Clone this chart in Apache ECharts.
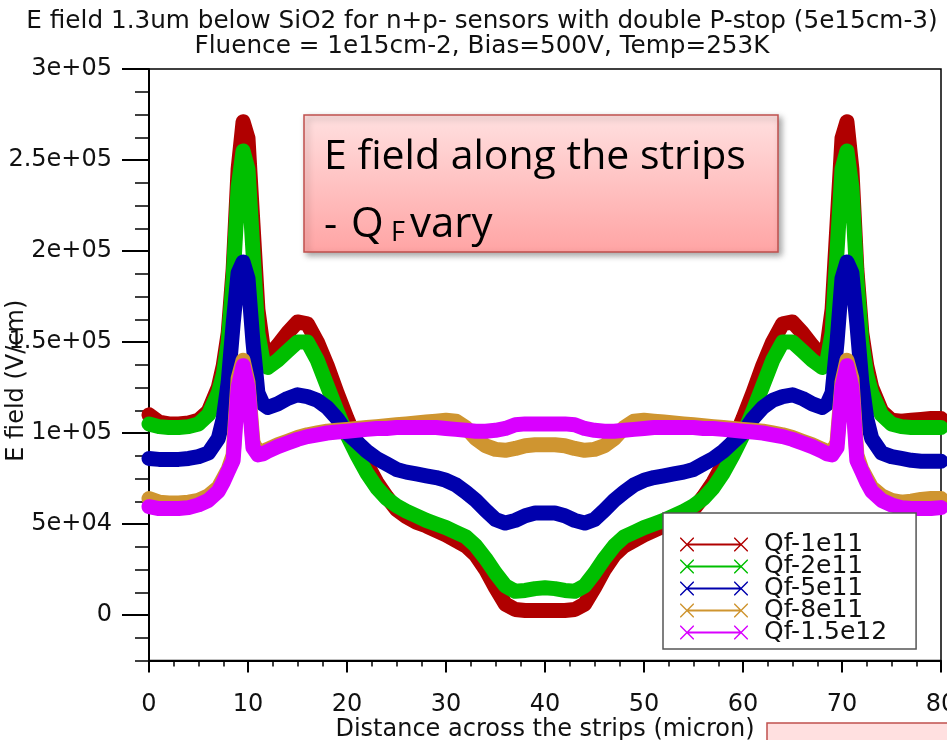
<!DOCTYPE html>
<html>
<head>
<meta charset="utf-8">
<script src="https://cdn.jsdelivr.net/npm/echarts@6/dist/echarts.min.js"></script>
<style>
html,body{margin:0;padding:0;background:#fff;}
#chart{width:947px;height:740px;}
</style>
</head>
<body>
<div id="chart"></div>
<script>
// ---- data ----
const xs = [0,1,2,3,4,5,6,7,7.5,8,8.5,9,9.5,10,10.5,11,11.5,12,13,14,15,16,17,18,19,20,21,22,23,24,25,26,27,28,29,30,31,32,33,34,35,36,37,38,39,40,
            41,42,43,44,45,46,47,48,49,50,51,52,53,54,55,56,57,58,59,60,61,62,63,64,65,66,67,68,68.5,69,69.5,70,70.5,71,71.5,72,72.5,73,74,75,76,77,78,79,80];

const qf1e11 = [110000,106000,105000,105000,105500,107000,112000,125000,137000,155000,190000,245000,271000,262000,215000,168000,148000,142000,
  148000,155000,161000,160000,150000,137000,122000,108000,95000,83000,73000,65000,58000,54000,51000,49000,46500,44000,41000,38000,33000,25000,15000,6000,3000,2500,2500,2500,
  2500,2500,3000,6000,15000,25000,33000,38000,41000,44000,46500,49000,51000,54000,58000,65000,73000,83000,95000,108000,122000,137000,150000,160000,161000,155000,148000,142000,
  148000,168000,215000,262000,271000,245000,190000,155000,137000,125000,112000,107000,106500,107000,107500,108000,108000];

const qf2e11 = [105000,103500,103000,103000,103500,105000,110000,122000,132000,150000,185000,235000,255000,245000,200000,155000,140000,136000,
  140000,145000,150000,150000,140000,126000,112000,99000,88000,78000,70000,64000,60000,57000,54500,52000,50000,48000,45500,43000,38000,31000,23000,16000,13000,13500,14500,15000,
  14500,13500,13000,16000,23000,31000,38000,43000,45500,48000,50000,52000,54500,57000,60000,64000,70000,78000,88000,99000,112000,126000,140000,150000,150000,145000,140000,136000,
  140000,155000,200000,245000,255000,235000,185000,150000,132000,122000,110000,105000,103500,103000,103000,103000,103000];

const qf5e11 = [86000,85500,85500,85500,86000,87000,89000,97000,108000,128000,160000,188000,194000,185000,150000,122000,116000,114000,
  116000,119000,121000,120000,118000,114000,108000,100000,95000,90000,86000,83000,80000,78500,77500,76500,75500,74000,71500,67500,63000,57500,52500,50500,52000,54500,56000,56000,
  56000,54500,52000,50500,52500,57500,63000,67500,71500,74000,75500,76500,77500,78500,80000,83000,86000,90000,95000,100000,108000,114000,118000,120000,121000,119000,116000,114000,
  116000,122000,150000,185000,194000,188000,160000,128000,108000,97000,89000,87000,86000,85000,84500,84500,84500];

const qf8e11 = [64000,62000,61500,61500,62000,63000,65500,70000,75000,80000,88000,130000,140000,128000,95000,89000,90000,91000,
  93500,95500,97500,99000,100000,101000,101500,102000,102500,103000,103500,104000,104500,105000,105500,106000,106500,107000,106500,103000,97000,93000,91000,90500,91500,93000,93500,93500,
  93500,93000,91500,90500,91000,93000,97000,103000,106500,107000,106500,106000,105500,105000,104500,104000,103500,103000,102500,102000,101500,101000,100000,99000,97500,95500,93500,91000,
  90000,89000,95000,128000,140000,130000,88000,80000,75000,70000,65500,63000,62000,62500,63500,64000,64000];

const qf15e12 = [59500,58500,58500,58500,59000,60500,63000,68000,73000,79000,85000,125000,137000,125000,92000,88000,88500,90000,
  92500,94500,96500,98000,99000,100000,100500,101000,101500,102000,102500,102500,103000,103000,103000,103000,103000,102500,102000,101500,101000,101000,101500,102500,104500,105000,105000,105000,
  105000,105000,104500,102500,101500,101000,101000,101500,102000,102500,103000,103000,103000,103000,103000,102500,102500,102000,101500,101000,100500,100000,99000,98000,96500,94500,92500,90000,
  88500,88000,92000,125000,137000,125000,85000,79000,73000,68000,63000,60500,59000,58500,58500,58500,59000];

const seriesNames = ['Qf-1e11','Qf-2e11','Qf-5e11','Qf-8e11','Qf-1.5e12'];
const seriesValues = [qf1e11, qf2e11, qf5e11, qf8e11, qf15e12];
const seriesColors = ['#b00000','#00bf00','#0000ad','#cf9530','#d900ff'];

const yTickValues = [0,50000,100000,150000,200000,250000,300000];
const yTickLabels = ['0','5e+04','1e+05','1.5e+05','2e+05','2.5e+05','3e+05'];

const titleLines = ['E field 1.3um below SiO2 for n+p- sensors with double P-stop (5e15cm-3)',
                    'Fluence = 1e15cm-2, Bias=500V, Temp=253K'];

// ---- chart ----
const FF = "'DejaVu Sans', sans-serif";
const AF = "'Open Sans', sans-serif";
const chart = echarts.init(document.getElementById('chart'), null, {renderer:'canvas'});

const legendIcon = 'path://M6,6L62,6L62,8L6,8Z' +
  'M0,0L1,0L14,13L14,14L13,14L0,1Z M13,0L14,0L14,1L1,14L0,14L0,13Z' +
  'M54,0L55,0L68,13L68,14L67,14L54,1Z M67,0L68,0L68,1L55,14L54,14L54,13Z';

const series = seriesNames.map((name, k) => ({
  name: name,
  type: 'line',
  xAxisIndex: 0,
  yAxisIndex: 0,
  showSymbol: false,
  symbol: 'none',
  smooth: false,
  data: xs.map((x, i) => [x, seriesValues[k][i]]),
  lineStyle: { color: seriesColors[k], width: 15, join: 'round', cap: 'round' },
  itemStyle: { color: seriesColors[k] },
  z: 2 + k
}));

const option = {
  animation: false,
  backgroundColor: '#fff',
  title: {
    text: titleLines.join('\n'),
    left: 482,
    top: 9,
    padding: 0,
    textAlign: 'center',
    textStyle: { fontFamily: FF, fontSize: 24.7, fontWeight: 'normal', color: '#111', lineHeight: 25 }
  },
  grid: { left: 149, right: 6, top: 69, bottom: 79.5, outerBoundsMode: 'none', containLabel: false,
          show: true, borderColor: '#000', borderWidth: 1.5, backgroundColor: 'transparent' },
  legend: {
    orient: 'vertical',
    left: 663,
    top: 513,
    padding: [19, 29, 4, 17],
    backgroundColor: '#fff',
    borderColor: '#555',
    borderWidth: 1.5,
    borderRadius: 0,
    itemWidth: 68,
    itemHeight: 14,
    itemGap: -3,
    icon: legendIcon,
    textStyle: { fontFamily: FF, fontSize: 25, lineHeight: 20, color: '#111', padding: [0, 0, 0, 11] },
    data: seriesNames,
    z: 10
  },
  xAxis: {
    type: 'value', min: 0, max: 80, interval: 10,
    axisLine: { show: true, onZero: false, lineStyle: { color: '#000', width: 2 } },
    axisTick: { show: true, length: 12, lineStyle: { color: '#000', width: 2 } },
    minorTick: { show: true, splitNumber: 4, length: 6, lineStyle: { color: '#000', width: 1.5 } },
    axisLabel: { fontFamily: FF, fontSize: 24, color: '#111', margin: 32, showMaxLabel: true },
    splitLine: { show: false },
    name: 'Distance across the strips (micron)',
    nameLocation: 'middle',
    nameGap: 57,
    nameMoveOverlap: false,
    nameTextStyle: { fontFamily: FF, fontSize: 24, color: '#111' }
  },
  yAxis: [
    {
      type: 'value', min: -25000, max: 300000, interval: 12500,
      axisLine: { show: true, onZero: false, lineStyle: { color: '#000', width: 2 } },
      axisTick: { show: true, length: 14, lineStyle: { color: '#000', width: 1.5 } },
      axisLabel: {
        customValues: yTickValues,
        formatter: function (v) { const i = yTickValues.indexOf(v); return i >= 0 ? yTickLabels[i] : ''; },
        fontFamily: FF, fontSize: 24, color: '#111', margin: 37
      },
      splitLine: { show: false },
      name: 'E field (V/cm)',
      nameLocation: 'middle',
      nameGap: 120,
      nameRotate: 90,
      nameMoveOverlap: false,
      nameTextStyle: { fontFamily: FF, fontSize: 24, color: '#111', padding: [0, 32, 0, 0] }
    },
    {
      type: 'value', min: -25000, max: 300000, interval: 12500, position: 'left',
      axisLine: { show: false },
      axisTick: { show: true, length: 27, customValues: yTickValues, lineStyle: { color: '#000', width: 2 } },
      axisLabel: { show: false },
      splitLine: { show: false }
    }
  ],
  series: series,
  graphic: [
    {
      type: 'rect', z: 100,
      shape: { x: 304, y: 115, width: 474, height: 137 },
      style: {
        fill: new echarts.graphic.LinearGradient(0, 0, 0, 1, [{offset: 0, color: '#ffe0e0'}, {offset: 1, color: '#ffa4a4'}]),
        stroke: '#c0504d', lineWidth: 1.5,
        shadowBlur: 6, shadowOffsetX: 3, shadowOffsetY: 3, shadowColor: 'rgba(0,0,0,0.35)'
      }
    },
    { type: 'text', z: 101, x: 324, y: 157, style: { text: 'E field along the strips', font: "41px " + AF, fill: '#000', verticalAlign: 'middle' } },
    { type: 'text', z: 101, x: 324, y: 225, style: { text: '-', font: "41px " + AF, fill: '#000', verticalAlign: 'middle' } },
    { type: 'text', z: 101, x: 351, y: 225, style: { text: 'Q', font: "42px " + AF, fill: '#000', verticalAlign: 'middle' } },
    { type: 'text', z: 101, x: 391, y: 233, style: { text: 'F', font: "27px " + AF, fill: '#000', verticalAlign: 'middle' } },
    { type: 'text', z: 101, x: 410, y: 225, style: { text: 'vary', font: "42px " + AF, fill: '#000', verticalAlign: 'middle' } },
    {
      type: 'rect', z: 100,
      shape: { x: 767, y: 723, width: 200, height: 40 },
      style: { fill: '#ffe0e0', stroke: '#c0504d', lineWidth: 1.5 }
    }
  ]
};
chart.setOption(option);
</script>
</body>
</html>
